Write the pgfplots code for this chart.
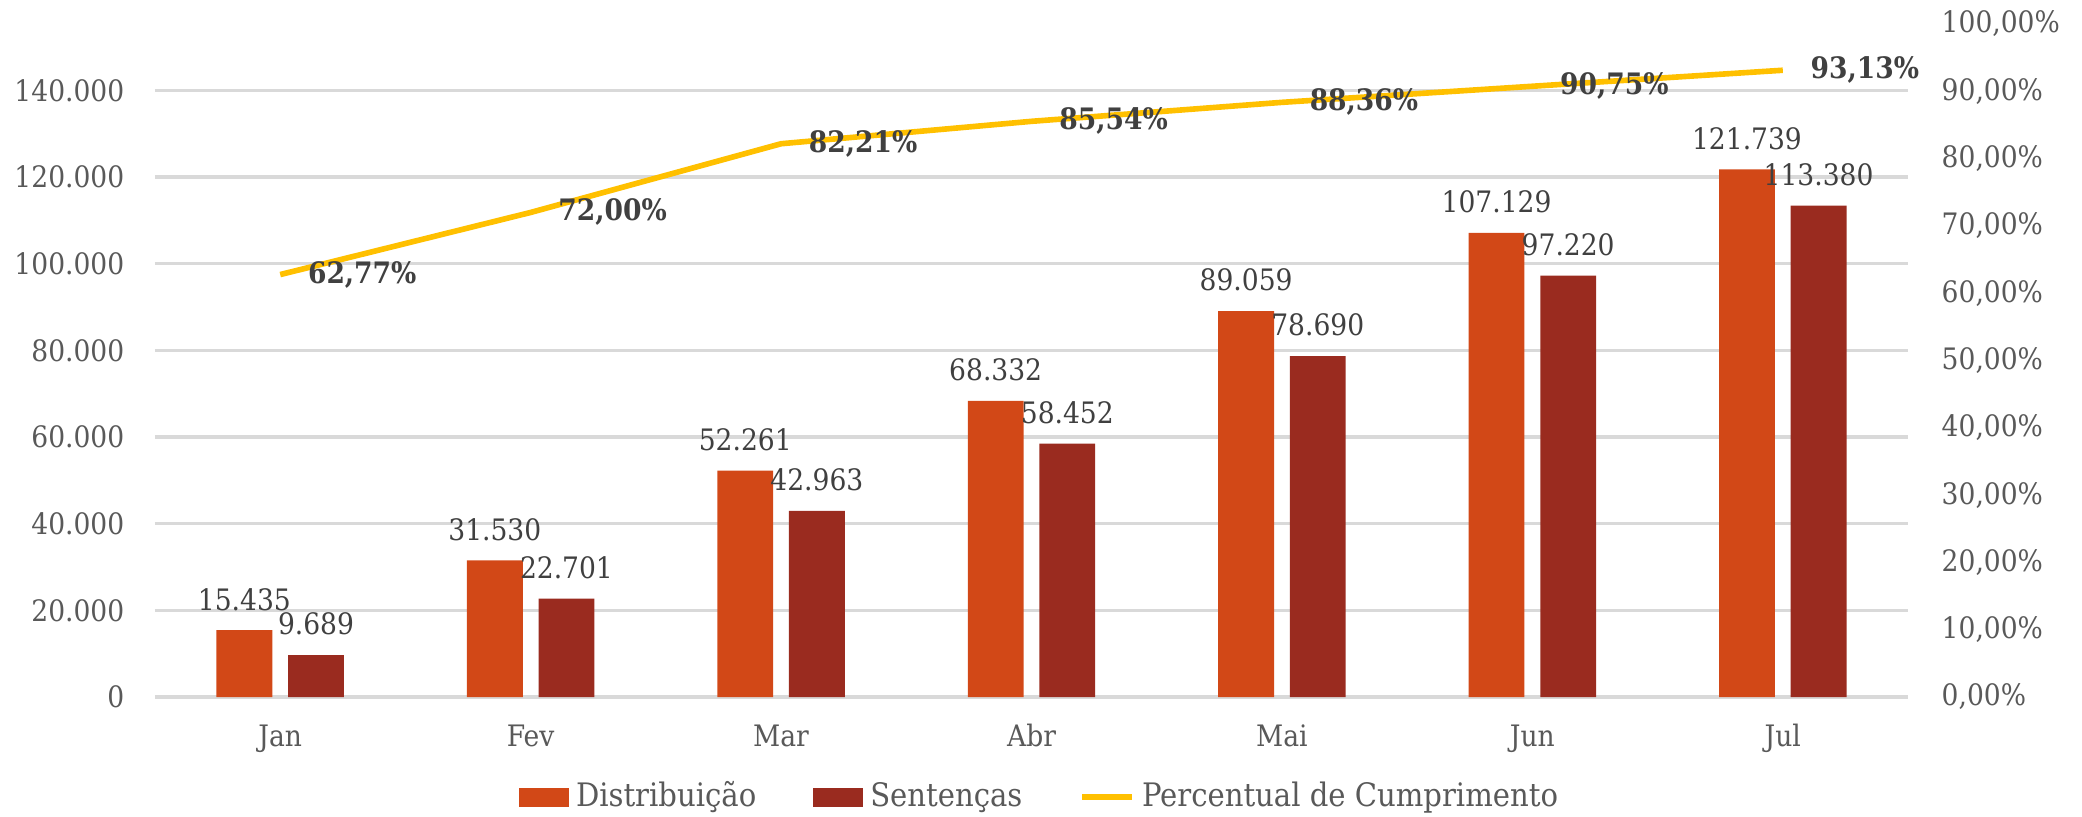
\documentclass[border=0pt]{standalone}
\usepackage{fontspec}
\setmainfont{DejaVu Serif Condensed}
\usepackage{pgfplots}
\pgfplotsset{compat=1.18}

\definecolor{distcol}{HTML}{D24817}
\definecolor{sentcol}{HTML}{9A2B1F}
\definecolor{linecol}{HTML}{FFC000}
\definecolor{ticktxt}{HTML}{595959}
\definecolor{labtxt}{HTML}{404040}
\definecolor{gridcol}{HTML}{D9D9D9}

\begin{document}
\begin{tikzpicture}
\pgfplotsset{
  base/.style={
    scale only axis, width=17.53cm, height=6.73cm,
    xmin=-0.5, xmax=6.5,
    clip=false,
    axis line style={draw=none},
    tick style={draw=none},
    tick label style={font=\fontsize{8.4}{10}\selectfont, text=ticktxt},
  }
}
\begin{axis}[base,
  ybar, bar width=0.223,
  ymin=0, ymax=155300,
  scaled y ticks=false,
  ytick={0,20000,...,140000},
  yticklabels={0,20.000,40.000,60.000,80.000,100.000,120.000,140.000},
  yticklabel style={anchor=east, inner sep=0pt, xshift=-0.3cm},
  xtick={0,...,6},
  xticklabels={Jan,Fev,Mar,Abr,Mai,Jun,Jul},
  xticklabel style={anchor=base, inner sep=0pt, yshift=-0.34cm},
  ymajorgrids, grid style={gridcol, line width=0.9pt},
  legend style={at={(0.506,-0.1486)}, anchor=center, draw=none, fill=none,
    legend columns=-1, font=\fontsize{9.2}{11}\selectfont, text=ticktxt,
    inner sep=0pt,
    /tikz/every even column/.append style={column sep=0.5cm}},
  legend cell align=left,
  nodes near coords,
  point meta=explicit symbolic,
  every node near coord/.append style={font=\fontsize{8.4}{10}\selectfont,
    text=labtxt, anchor=south, inner sep=0pt, yshift=0.19cm},
]
\coordinate (bl) at (rel axis cs:0,0);
\coordinate (tr) at (rel axis cs:1,1);
\addplot[bar shift=-0.143, fill=distcol, draw=none,
  legend image code/.code={\fill[distcol] (0cm,-0.095cm) rectangle (0.5cm,0.095cm);}]
  coordinates {(0,15435) [15.435] (1,31530) [31.530] (2,52261) [52.261]
    (3,68332) [68.332] (4,89059) [89.059] (5,107129) [107.129] (6,121739) [121.739]};
\addlegendentry{Distribuição}
\addplot[bar shift=0.143, fill=sentcol, draw=none,
  legend image code/.code={\fill[sentcol] (0cm,-0.095cm) rectangle (0.5cm,0.095cm);}]
  coordinates {(0,9689) [9.689] (1,22701) [22.701] (2,42963) [42.963]
    (3,58452) [58.452] (4,78690) [78.690] (5,97220) [97.220] (6,113380) [113.380]};
\addlegendentry{Sentenças}
\addlegendimage{legend image code/.code={\draw[linecol, line width=1.6pt] (0cm,0cm) -- (0.5cm,0cm);}}
\addlegendentry{Percentual de Cumprimento}
\end{axis}

\begin{axis}[base,
  ymin=0, ymax=100,
  axis x line=none,
  axis y line*=right,
  ytick={0,10,...,100},
  yticklabels={{0,00\%},{10,00\%},{20,00\%},{30,00\%},{40,00\%},{50,00\%},{60,00\%},{70,00\%},{80,00\%},{90,00\%},{100,00\%}},
  yticklabel style={anchor=west, inner sep=0pt, xshift=0.33cm},
  nodes near coords,
  point meta=explicit symbolic,
  every node near coord/.append style={font=\bfseries\fontsize{8.4}{10}\selectfont,
    text=labtxt, anchor=west, inner sep=0pt, xshift=0.25cm},
]
\addplot[linecol, line width=1.6pt, mark=none]
  coordinates {(0,62.77) [62,77\%] (1,72.00) [72,00\%] (2,82.21) [82,21\%]
    (3,85.54) [85,54\%] (4,88.36) [88,36\%] (5,90.75) [90,75\%] (6,93.13) [93,13\%]};
\end{axis}

\pgfresetboundingbox
\path ([shift={(-1.55cm,-1.19cm)}]bl) rectangle ([shift={(1.74cm,0.24cm)}]tr);
\end{tikzpicture}
\end{document}
